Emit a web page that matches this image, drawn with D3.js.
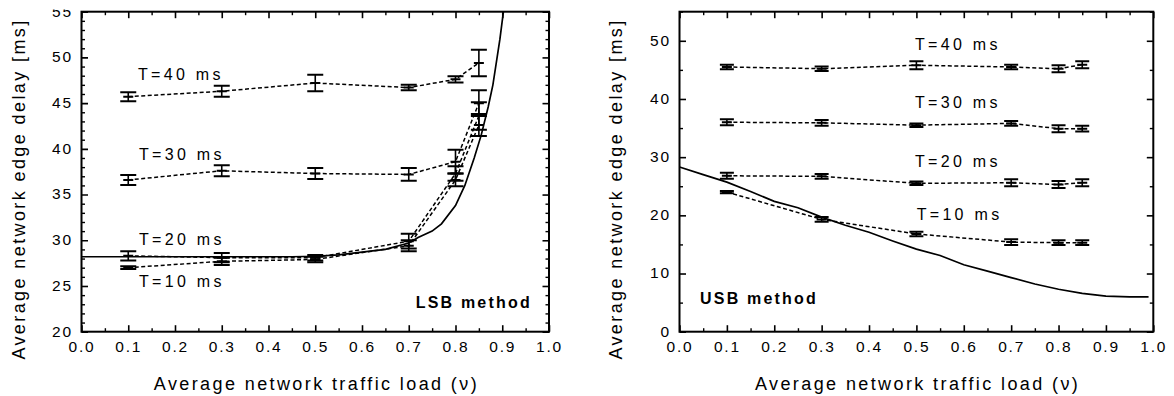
<!DOCTYPE html>
<html>
<head>
<meta charset="utf-8">
<script src="https://cdn.jsdelivr.net/npm/d3@7/dist/d3.min.js"></script>
<style>
  html, body { margin: 0; padding: 0; background: #fff; }
  svg { display: block; }
  text { font-family: "Liberation Sans", Arial, sans-serif; fill: #000; }
</style>
</head>
<body>
<script>
// ---------- data ----------
const loads = [0.1, 0.3, 0.5, 0.7, 0.8, 0.85];
const seriesNames = ["T=40 ms", "T=30 ms", "T=20 ms", "T=10 ms"];

// LSB method (left panel)
const lsbT40 = [45.7, 46.3, 47.2, 46.7, 47.6, 49.4];
const lsbT40Err = [0.5, 0.6, 0.9, 0.3, 0.35, 1.45];
const lsbT30 = [36.6, 37.6, 37.3, 37.2, 38.6, 45.0];
const lsbT30Err = [0.55, 0.6, 0.6, 0.7, 1.3, 1.4];
const lsbT20 = [28.3, 28.1, 28.1, 29.9, 37.3, 43.6];
const lsbT20Err = [0.5, 0.5, 0.3, 0.8, 0.8, 1.5];
const lsbT10 = [27.0, 27.7, 27.9, 29.4, 36.6, 42.6];
const lsbT10Err = [0.15, 0.4, 0.3, 0.6, 0.7, 1.2];
const lsbTheoryLoad = [0, 0.45, 0.5, 0.55, 0.6, 0.65, 0.7, 0.72, 0.75, 0.77, 0.8, 0.82, 0.84, 0.855, 0.87, 0.88, 0.895, 0.905];
const lsbTheoryDelay = [28.2, 28.2, 28.25, 28.4, 28.7, 29.0, 29.7, 30.3, 31.0, 31.8, 33.8, 36.0, 39.0, 41.5, 44.6, 47.0, 52.0, 56.0];

// USB method (right panel)
const usbT40 = [45.5, 45.2, 45.8, 45.5, 45.2, 45.9];
const usbT40Err = [0.4, 0.4, 0.7, 0.4, 0.6, 0.6];
const usbT30 = [36.0, 35.9, 35.5, 35.8, 34.9, 34.9];
const usbT30Err = [0.5, 0.5, 0.3, 0.4, 0.6, 0.5];
const usbT20 = [26.8, 26.7, 25.5, 25.6, 25.3, 25.6];
const usbT20Err = [0.5, 0.4, 0.3, 0.6, 0.6, 0.6];
const usbT10 = [24.0, 19.3, 16.8, 15.4, 15.3, 15.3];
const usbT10Err = [0.2, 0.4, 0.4, 0.5, 0.4, 0.4];
const usbTheoryLoad = [0, 0.05, 0.1, 0.15, 0.2, 0.25, 0.3, 0.35, 0.4, 0.45, 0.5, 0.55, 0.6, 0.65, 0.7, 0.75, 0.8, 0.85, 0.9, 0.95, 0.99];
const usbTheoryDelay = [28.3, 27.0, 25.7, 24.1, 22.4, 21.3, 19.7, 18.3, 17.1, 15.6, 14.2, 13.1, 11.5, 10.4, 9.3, 8.2, 7.3, 6.6, 6.1, 6.0, 6.0];

const xTickLabels = ["0.0","0.1","0.2","0.3","0.4","0.5","0.6","0.7","0.8","0.9","1.0"];
const lsbYTicks = [20, 25, 30, 35, 40, 45, 50, 55];
const usbYTicks = [0, 10, 20, 30, 40, 50];
const xTitle = "Average network traffic load (\u03BD)";
const yTitle = "Average network edge delay [ms]";

// ---------- drawing ----------
const W = 1174, H = 396;
const svg = d3.select("body").append("svg").attr("width", W).attr("height", H);

function drawPanel(o) {
  const x = d3.scaleLinear().domain([0, 1]).range([o.left, o.right]);
  const y = d3.scaleLinear().domain(o.yDomain).range([o.bottom, o.top]);
  const g = svg.append("g");
  const clipId = "clip" + o.id;
  svg.append("clipPath").attr("id", clipId).append("rect")
    .attr("x", o.left).attr("y", o.top).attr("width", o.right - o.left).attr("height", o.bottom - o.top);

  const xMajor = d3.range(0, 11).map(i => i / 10);
  const xMinor = d3.range(0, 10).map(i => i / 10 + 0.05);
  const yMajor = o.yTicks;
  const yMinor = d3.range(o.yDomain[0], o.yDomain[1] + 0.001, o.yMinorStep).filter(v => !yMajor.some(m => Math.abs(m - v) < 1e-6));

  function styleAxis(sel, sw) {
    sel.select(".domain").remove();
    sel.selectAll(".tick line").attr("stroke", "#000").attr("stroke-width", sw);
  }
  const MAJ = 6.5, MIN = 3.5;
  // bottom
  const gb = g.append("g").attr("transform", `translate(0,${o.bottom})`)
    .call(d3.axisBottom(x).tickValues(xMajor).tickFormat((d, i) => xTickLabels[i]).tickSizeInner(-MAJ).tickSizeOuter(0).tickPadding(9.8));
  styleAxis(gb, 1.6);
  gb.selectAll("text").attr("font-size", 15.5).attr("letter-spacing", 1.8).attr("font-family", null);
  g.append("g").attr("transform", `translate(0,${o.bottom})`)
    .call(d3.axisBottom(x).tickValues(xMinor).tickFormat("").tickSizeInner(-MIN).tickSizeOuter(0)).call(s => styleAxis(s, 1.4));
  // top
  g.append("g").attr("transform", `translate(0,${o.top})`)
    .call(d3.axisTop(x).tickValues(xMajor).tickFormat("").tickSizeInner(-MAJ).tickSizeOuter(0)).call(s => styleAxis(s, 1.6));
  g.append("g").attr("transform", `translate(0,${o.top})`)
    .call(d3.axisTop(x).tickValues(xMinor).tickFormat("").tickSizeInner(-MIN).tickSizeOuter(0)).call(s => styleAxis(s, 1.4));
  // left
  const gl = g.append("g").attr("transform", `translate(${o.left},0)`)
    .call(d3.axisLeft(y).tickValues(yMajor).tickFormat(d3.format("d")).tickSizeInner(-MAJ).tickSizeOuter(0).tickPadding(8.7));
  styleAxis(gl, 1.6);
  gl.selectAll("text").attr("font-size", 15.5).attr("letter-spacing", 1.8).attr("font-family", null).attr("dy", "0.28em");
  if (o.labelClipTop !== undefined) {
    const lc = "lclip" + o.id;
    svg.append("clipPath").attr("id", lc).append("rect")
      .attr("x", -200).attr("y", o.labelClipTop).attr("width", 400).attr("height", 500);
    gl.attr("clip-path", `url(#${lc})`);
  }
  g.append("g").attr("transform", `translate(${o.left},0)`)
    .call(d3.axisLeft(y).tickValues(yMinor).tickFormat("").tickSizeInner(-MIN).tickSizeOuter(0)).call(s => styleAxis(s, 1.4));
  // right
  g.append("g").attr("transform", `translate(${o.right},0)`)
    .call(d3.axisRight(y).tickValues(yMajor).tickFormat("").tickSizeInner(-MAJ).tickSizeOuter(0)).call(s => styleAxis(s, 1.6));
  g.append("g").attr("transform", `translate(${o.right},0)`)
    .call(d3.axisRight(y).tickValues(yMinor).tickFormat("").tickSizeInner(-MIN).tickSizeOuter(0)).call(s => styleAxis(s, 1.4));

  // frame
  g.append("rect").attr("x", o.left).attr("y", o.top).attr("width", o.right - o.left).attr("height", o.bottom - o.top)
    .attr("fill", "none").attr("stroke", "#000").attr("stroke-width", 2);

  const plot = g.append("g").attr("clip-path", `url(#${clipId})`);

  // theory curve (solid)
  const theory = o.theoryLoad.map((v, i) => [v, o.theoryDelay[i]]);
  plot.append("path").datum(theory)
    .attr("d", d3.line().x(d => x(d[0])).y(d => y(d[1])))
    .attr("fill", "none").attr("stroke", "#000").attr("stroke-width", 1.7);

  // simulation series (dashed + error bars)
  o.series.forEach(s => {
    const pts = loads.map((v, i) => ({ v, d: s.vals[i], e: s.errs[i] }));
    plot.append("path").datum(pts)
      .attr("d", d3.line().x(d => x(d.v)).y(d => y(d.d)))
      .attr("fill", "none").attr("stroke", "#000").attr("stroke-width", 1.5).attr("stroke-dasharray", "4,2.5");
    const eb = plot.append("g").selectAll("g").data(pts).join("g");
    eb.append("line").attr("x1", d => x(d.v)).attr("x2", d => x(d.v))
      .attr("y1", d => y(d.d - d.e)).attr("y2", d => y(d.d + d.e)).attr("stroke", "#000").attr("stroke-width", 1.6);
    [-1, 1].forEach(sgn => {
      eb.append("line").attr("x1", d => x(d.v) - o.cap).attr("x2", d => x(d.v) + o.cap)
        .attr("y1", d => y(d.d + sgn * d.e)).attr("y2", d => y(d.d + sgn * d.e))
        .attr("stroke", "#000").attr("stroke-width", 2);
    });
    eb.append("line").attr("x1", d => x(d.v) - 5).attr("x2", d => x(d.v) + 5)
      .attr("y1", d => y(d.d)).attr("y2", d => y(d.d)).attr("stroke", "#000").attr("stroke-width", 2);
  });

  // series labels
  o.labels.forEach(l => {
    g.append("text").attr("x", l.x).attr("y", l.y).attr("font-size", 16).attr("letter-spacing", 3.3).text(l.t);
  });
  g.append("text").attr("x", o.method.x).attr("y", o.method.y).attr("font-size", 16).attr("font-weight", "bold")
    .attr("letter-spacing", 2.2).text(o.method.t);

  // axis titles
  g.append("text").attr("x", (o.left + o.right) / 2 + 1.2).attr("y", 389.5).attr("text-anchor", "middle")
    .attr("font-size", 18).attr("letter-spacing", 2.4).text(xTitle);
  g.append("text").attr("transform", `translate(${o.yTitleX},189) rotate(-90)`).attr("text-anchor", "middle")
    .attr("font-size", 18).attr("letter-spacing", 2.4).text(yTitle);
}

drawPanel({
  id: "L", left: 81.5, right: 549, top: 11.7, bottom: 331.7, yDomain: [20, 55], yTicks: lsbYTicks, yMinorStep: 1,
  labelClipTop: 9.5, cap: 8, yTitleX: 25,
  theoryLoad: lsbTheoryLoad, theoryDelay: lsbTheoryDelay,
  series: [
    { vals: lsbT40, errs: lsbT40Err }, { vals: lsbT30, errs: lsbT30Err },
    { vals: lsbT20, errs: lsbT20Err }, { vals: lsbT10, errs: lsbT10Err }],
  labels: [
    { t: seriesNames[0], x: 138, y: 80 }, { t: seriesNames[1], x: 139, y: 160 },
    { t: seriesNames[2], x: 139, y: 245 }, { t: seriesNames[3], x: 139, y: 287.3 }],
  method: { t: "LSB method", x: 415.7, y: 307.7 }
});

drawPanel({
  id: "R", left: 679.5, right: 1153.3, top: 11.7, bottom: 331.7, yDomain: [0, 55], yTicks: usbYTicks, yMinorStep: 5,
  cap: 7, yTitleX: 622,
  theoryLoad: usbTheoryLoad, theoryDelay: usbTheoryDelay,
  series: [
    { vals: usbT40, errs: usbT40Err }, { vals: usbT30, errs: usbT30Err },
    { vals: usbT20, errs: usbT20Err }, { vals: usbT10, errs: usbT10Err }],
  labels: [
    { t: seriesNames[0], x: 915, y: 50 }, { t: seriesNames[1], x: 915, y: 107.5 },
    { t: seriesNames[2], x: 915, y: 166.7 }, { t: seriesNames[3], x: 916.7, y: 220 }],
  method: { t: "USB method", x: 700, y: 304.3 }
});
</script>
</body>
</html>
